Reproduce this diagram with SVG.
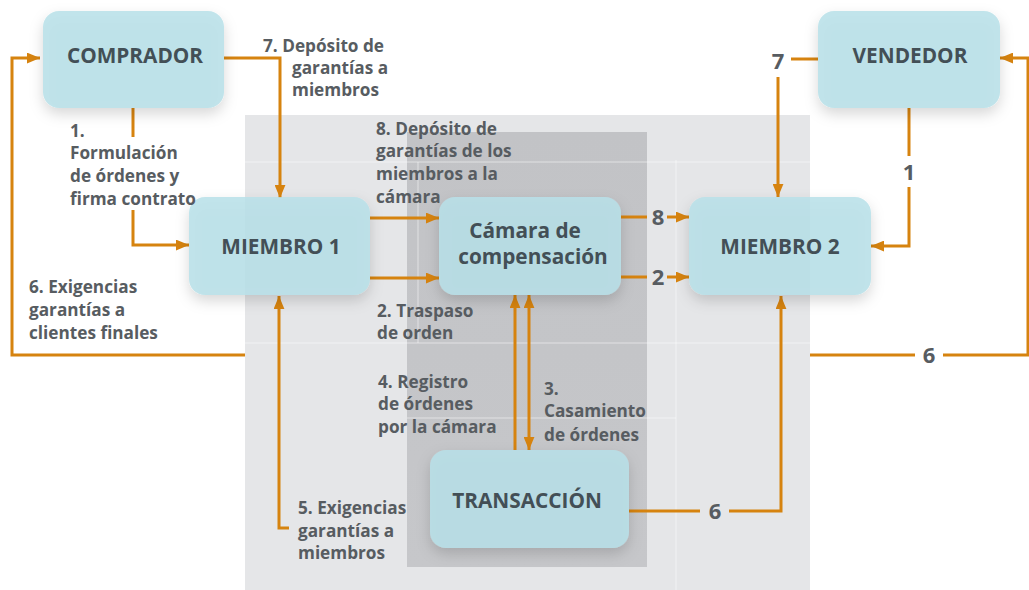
<svg xmlns="http://www.w3.org/2000/svg" width="1029" height="590" viewBox="0 0 1029 590">
<style>
.node{fill:#b8e1e9;fill-opacity:0.86;filter:url(#sh)}
.nt{font-family:"Open Sans","Noto Sans",sans-serif;font-weight:700;font-size:20.8px;fill:#434f56;text-anchor:middle}
.lb{font-family:"Open Sans","Noto Sans",sans-serif;font-weight:700;font-size:17.2px;fill:#575c61}
.num{font-family:"Open Sans","Noto Sans",sans-serif;font-weight:700;font-size:22px;fill:#575c61;text-anchor:middle}
.c{fill:none;stroke:#d6830f;stroke-width:3}
.bgl{stroke:#ffffff;stroke-opacity:0.5;stroke-width:1}
</style>
<defs>
<marker id="ah" viewBox="0 0 12 10" refX="12" refY="5" markerWidth="13" markerHeight="11" markerUnits="userSpaceOnUse" orient="auto-start-reverse">
<path d="M0,0 L12,5 L0,10 z" fill="#d6830f"/>
</marker>
<filter id="sh" x="-30%" y="-30%" width="160%" height="170%">
<feDropShadow dx="0" dy="6" stdDeviation="7" flood-color="#000" flood-opacity="0.18"/>
</filter>
<linearGradient id="dg" x1="0" y1="0" x2="0" y2="1">
<stop offset="0" stop-color="#c2c3c6"/>
<stop offset="1" stop-color="#c6c7ca"/>
</linearGradient>
</defs>
<rect width="1029" height="590" fill="#ffffff"/>
<g id="background">
<rect x="245" y="115" width="565" height="475" fill="#e5e6e8"/>
<rect x="407" y="132" width="240" height="435" fill="url(#dg)"/>
<line class="bgl" x1="245" y1="162" x2="810" y2="162"/>
<line class="bgl" x1="245" y1="343" x2="810" y2="343"/>
<line class="bgl" x1="407" y1="418" x2="676" y2="418"/>
<line class="bgl" x1="676" y1="160" x2="676" y2="590"/>
<line class="bgl" x1="418" y1="162" x2="418" y2="343"/>
</g>
<g id="connectors">
<path class="c" d="M133,108 V137"/>
<path class="c" d="M133,210 V245 H189" marker-end="url(#ah)"/>
<path class="c" d="M245,355 H12 V58 H40" marker-end="url(#ah)"/>
<path class="c" d="M224,58 H280 V198" marker-end="url(#ah)"/>
<path class="c" d="M370,218 H439" marker-end="url(#ah)"/>
<path class="c" d="M370,278 H439" marker-end="url(#ah)"/>
<path class="c" d="M621,217 H647"/>
<path class="c" d="M667,217 H689" marker-end="url(#ah)"/>
<path class="c" d="M621,277 H647"/>
<path class="c" d="M667,277 H689" marker-end="url(#ah)"/>
<path class="c" d="M818,59 H791"/>
<path class="c" d="M778,77 V197" marker-end="url(#ah)"/>
<path class="c" d="M909,108 V156"/>
<path class="c" d="M909,187 V246 H871" marker-end="url(#ah)"/>
<path class="c" d="M810,355 H915"/>
<path class="c" d="M943,355 H1028 V58 H1000" marker-end="url(#ah)"/>
<path class="c" d="M515,450 V295" marker-end="url(#ah)"/>
<path class="c" d="M529,450 V295" marker-start="url(#ah)" marker-end="url(#ah)"/>
<path class="c" d="M629,511 H700"/>
<path class="c" d="M729,511 H781 V296" marker-end="url(#ah)"/>
<path class="c" d="M289,528 H279 V296" marker-end="url(#ah)"/>
</g>
<g id="comprador">
<rect class="node" x="43" y="11" width="181" height="97" rx="16"/>
<text class="nt" x="135" y="63">COMPRADOR</text>
</g>
<g id="vendedor">
<rect class="node" x="818" y="11" width="182" height="97" rx="16"/>
<text class="nt" x="910" y="63">VENDEDOR</text>
</g>
<g id="miembro1">
<rect class="node" x="189" y="197" width="181" height="98" rx="16"/>
<text class="nt" x="281" y="254">MIEMBRO 1</text>
</g>
<g id="miembro2">
<rect class="node" x="689" y="197" width="182" height="98" rx="16"/>
<text class="nt" x="780" y="254">MIEMBRO 2</text>
</g>
<g id="camara">
<rect class="node" x="439" y="197" width="182" height="98" rx="16"/>
<text class="nt" x="525" y="238">Cámara de</text>
<text class="nt" x="533" y="264">compensación</text>
</g>
<g id="transaccion">
<rect class="node" x="430" y="450" width="199" height="98" rx="16"/>
<text class="nt" x="527" y="508">TRANSACCIÓN</text>
</g>
<g id="labels">
<text class="lb" x="70" y="137">1.</text>
<text class="lb" x="70" y="159">Formulación</text>
<text class="lb" x="70" y="182">de órdenes y</text>
<text class="lb" x="70" y="205">firma contrato</text>
<text class="lb" x="263" y="52">7. Depósito de</text>
<text class="lb" x="292" y="74">garantías a</text>
<text class="lb" x="292" y="96">miembros</text>
<text class="lb" x="376" y="135">8. Depósito de</text>
<text class="lb" x="376" y="157">garantías de los</text>
<text class="lb" x="376" y="180">miembros a la</text>
<text class="lb" x="376" y="203">cámara</text>
<text class="lb" x="29" y="293">6. Exigencias</text>
<text class="lb" x="29" y="316">garantías a</text>
<text class="lb" x="29" y="339">clientes finales</text>
<text class="lb" x="377" y="317">2. Traspaso</text>
<text class="lb" x="377" y="339">de orden</text>
<text class="lb" x="378" y="388">4. Registro</text>
<text class="lb" x="378" y="410">de órdenes</text>
<text class="lb" x="378" y="433">por la cámara</text>
<text class="lb" x="544" y="395">3.</text>
<text class="lb" x="544" y="417">Casamiento</text>
<text class="lb" x="544" y="441">de órdenes</text>
<text class="lb" x="298" y="514">5. Exigencias</text>
<text class="lb" x="298" y="537">garantías a</text>
<text class="lb" x="298" y="559">miembros</text>
<text class="num" x="658" y="225">8</text>
<text class="num" x="658" y="285">2</text>
<text class="num" x="778" y="69">7</text>
<text class="num" x="909" y="180">1</text>
<text class="num" x="929" y="363">6</text>
<text class="num" x="715" y="519">6</text>
</g>
</svg>
